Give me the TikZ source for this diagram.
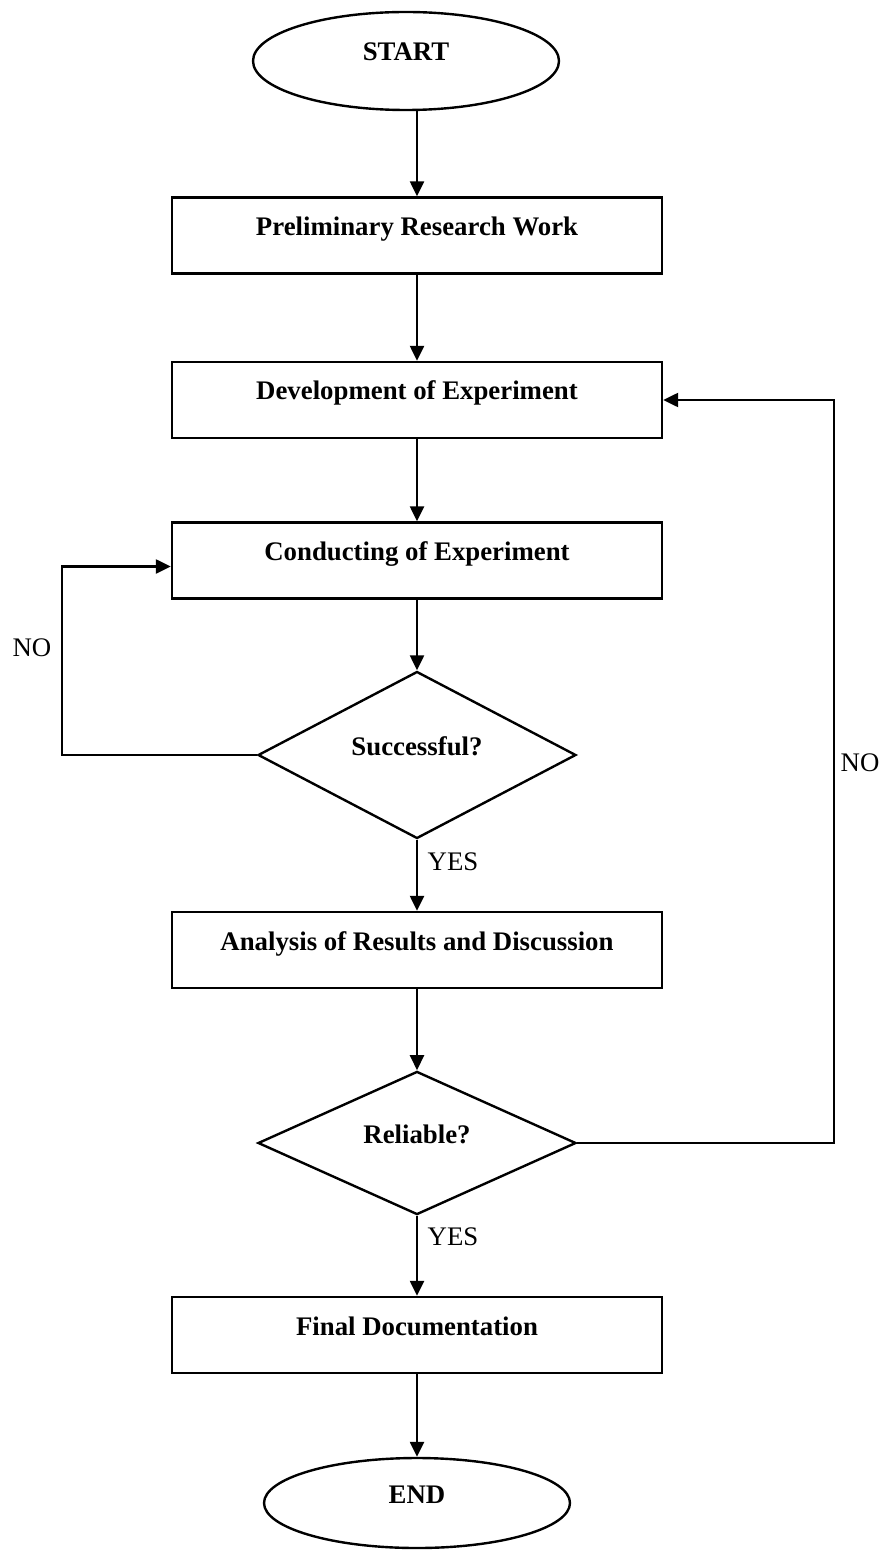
\documentclass[tikz,border=0pt]{standalone}
\usepackage{fontspec}
\setmainfont{Liberation Serif}
\usetikzlibrary{shapes.geometric,arrows.meta}

\begin{document}
\begin{tikzpicture}[
    x=0.5pt, y=-0.5pt,
    line width=1.2pt,
    inner sep=0pt,
    font=\fontsize{13.4}{16}\selectfont,
    term/.style={ellipse, draw, minimum width=153pt, minimum height=49pt,
      text height=9pt, text depth=9pt, font=\fontsize{13.4}{16}\selectfont\bfseries},
    proc/.style={rectangle, draw, minimum width=245pt, minimum height=38pt,
      text height=9pt, text depth=9pt, font=\fontsize{13.4}{16}\selectfont\bfseries},
    cond/.style={diamond, draw, minimum width=159pt, minimum height=66pt,
      text height=9pt, text depth=9pt, font=\fontsize{13.4}{16}\selectfont\bfseries},
    arr/.style={-{Triangle[length=7.5pt,width=7pt]}}
  ]
  \useasboundingbox (0,0) rectangle (882,1551);

  \node[term] (start) at (406,61) {START};
  \node[proc] (prelim) at (417,235.5) {Preliminary Research Work};
  \node[proc] (devel) at (417,400) {Development of Experiment};
  \node[proc] (conduct) at (417,560.5) {Conducting of Experiment};
  \node[cond] (succ) at (417,755) {Successful?};
  \node[proc] (analysis) at (417,950) {Analysis of Results and Discussion};
  \node[cond] (reliable) at (417,1143) {Reliable?};
  \node[proc] (final) at (417,1335) {Final Documentation};
  \node[term, minimum height=45pt] (end) at (417,1503) {END};

  \draw[arr] (start.south -| prelim.north) -- (prelim.north);
  \draw[arr] (prelim) -- (devel);
  \draw[arr] (devel) -- (conduct);
  \draw[arr] (conduct) -- (succ);
  \draw[arr] (succ) -- (analysis);
  \draw[arr] (analysis) -- (reliable);
  \draw[arr] (reliable) -- (final);
  \draw[arr] (final) -- (end);

  % loops back
  \draw[arr] (succ.west) -- ++(-195,0) |- ([yshift=-3pt]conduct.west);
  \draw[arr] (reliable.east) -- ++(257,0) |- (devel.east);

  \node (no1) at (32,648) {NO};
  \node (no2) at (860,763) {NO};
  \node (yes1) at (453,862) {YES};
  \node (yes2) at (453,1237) {YES};
\end{tikzpicture}
\end{document}
